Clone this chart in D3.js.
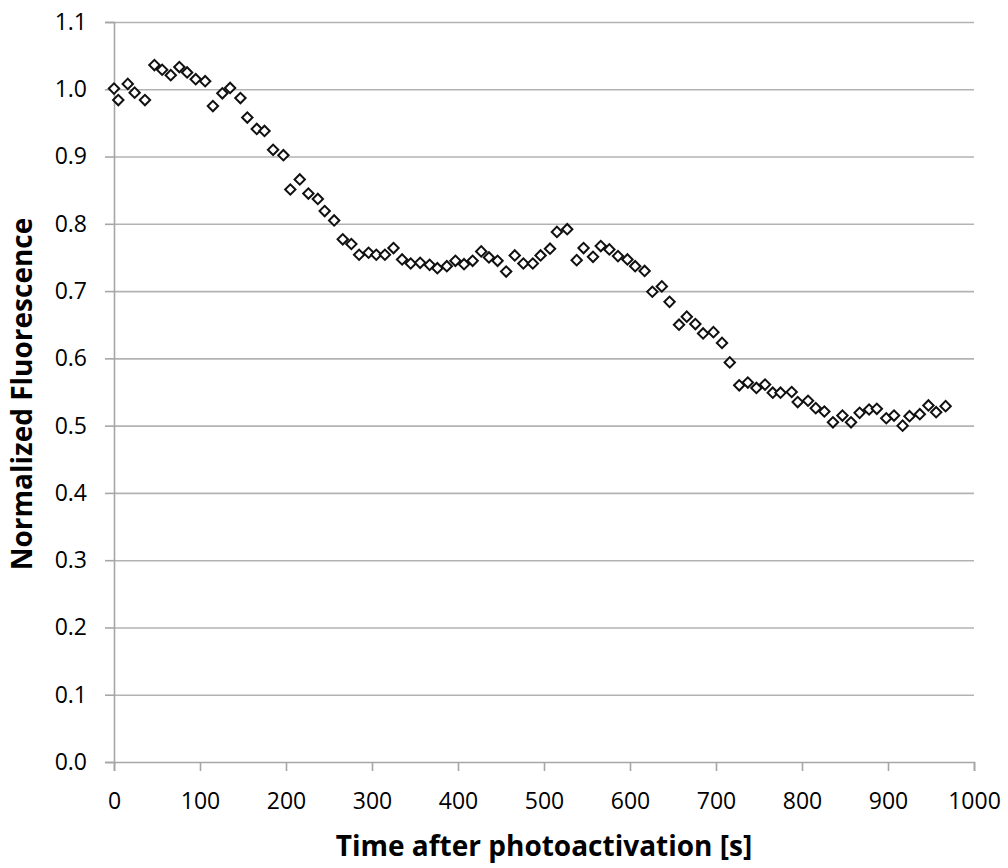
<!DOCTYPE html>
<html>
<head>
<meta charset="utf-8">
<script src="https://cdn.jsdelivr.net/npm/d3@7"></script>
<style>
  html, body { margin: 0; padding: 0; background: #ffffff; }
  svg { display: block; }
</style>
</head>
<body>
<div id="chart"></div>
<script>
// Time points (s) and normalized fluorescence
const times = [0, 5, 16, 24, 36, 47, 56, 66, 76, 85, 95, 106, 115, 126, 135, 147, 155, 166, 175, 185,
  197, 205, 216, 226, 237, 245, 256, 266, 276, 285, 296, 305, 315, 325, 335, 345, 356, 367, 376, 387,
  397, 407, 417, 427, 436, 446, 456, 466, 476, 487, 496, 507, 515, 527, 538, 546, 557, 566, 576, 586,
  597, 606, 617, 626, 637, 646, 657, 666, 676, 685, 697, 707, 716, 727, 737, 747, 757, 766, 775, 788,
  795, 807, 816, 826, 836, 847, 857, 867, 878, 887, 898, 907, 917, 925, 937, 947, 956, 967];
const fluorescence = [1.001, 0.984, 1.008, 0.995, 0.984, 1.036, 1.029, 1.021, 1.033, 1.025,
  1.015, 1.012, 0.975, 0.994, 1.002, 0.987, 0.958, 0.941, 0.938, 0.910,
  0.902, 0.851, 0.866, 0.845, 0.837, 0.819, 0.805, 0.777, 0.770, 0.754,
  0.757, 0.754, 0.754, 0.764, 0.747, 0.741, 0.742, 0.739, 0.734, 0.737,
  0.745, 0.740, 0.745, 0.759, 0.750, 0.745, 0.729, 0.753, 0.741, 0.741,
  0.753, 0.763, 0.788, 0.792, 0.746, 0.764, 0.751, 0.767, 0.762, 0.752,
  0.747, 0.737, 0.730, 0.699, 0.707, 0.684, 0.650, 0.662, 0.651, 0.637,
  0.639, 0.623, 0.594, 0.560, 0.564, 0.556, 0.561, 0.549, 0.549, 0.550,
  0.535, 0.537, 0.526, 0.521, 0.505, 0.515, 0.505, 0.519, 0.524, 0.525,
  0.511, 0.515, 0.500, 0.514, 0.517, 0.530, 0.520, 0.529];
const xTicks = [0, 100, 200, 300, 400, 500, 600, 700, 800, 900, 1000];
const yTicks = [0, 0.1, 0.2, 0.3, 0.4, 0.5, 0.6, 0.7, 0.8, 0.9, 1.0, 1.1];
const xTitle = 'Time after photoactivation [s]';
const yTitle = 'Normalized Fluorescence';

const points = times.map((t, i) => ({ t: t, v: fluorescence[i] }));

// Set up dimensions and margins
const W = 1008, H = 868;
const margin = { top: 22, right: 34, bottom: 106, left: 114 };
const width = W - margin.left - margin.right;
const height = H - margin.top - margin.bottom;
const font = '"Open Sans", "Liberation Sans", sans-serif';

const svg = d3.select('#chart')
  .append('svg')
  .attr('width', W)
  .attr('height', H);

const g = svg.append('g')
  .attr('transform', `translate(${margin.left},${margin.top})`);

const x = d3.scaleLinear().domain([0, 1000]).range([0, width]);
const y = d3.scaleLinear().domain([0, 1.1]).range([height, 0]);

// Horizontal gridlines
g.append('g')
  .attr('class', 'grid')
  .call(d3.axisLeft(y).tickValues(yTicks.slice(1)).tickSize(-width).tickFormat(''))
  .call(s => s.select('.domain').remove())
  .selectAll('line')
  .attr('stroke', '#b3b3b3')
  .attr('stroke-width', 1.6);

// Y-axis
const yAxis = g.append('g')
  .attr('class', 'axis y-axis')
  .call(d3.axisLeft(y).tickValues(yTicks).tickSize(9).tickPadding(18).tickFormat(d3.format('.1f')));
yAxis.select('.domain').attr('stroke', '#a6a6a6').attr('stroke-width', 1.6);
yAxis.selectAll('line').attr('stroke', '#a6a6a6').attr('stroke-width', 1.6);
yAxis.selectAll('text')
  .attr('fill', '#000')
  .style('font-family', font)
  .style('font-size', '23px');

// X-axis
const xAxis = g.append('g')
  .attr('class', 'axis x-axis')
  .attr('transform', `translate(0,${height})`)
  .call(d3.axisBottom(x).tickValues(xTicks).tickSize(9).tickPadding(22).tickFormat(d3.format('d')));
xAxis.select('.domain').attr('stroke', '#a6a6a6').attr('stroke-width', 1.6);
xAxis.selectAll('line').attr('stroke', '#a6a6a6').attr('stroke-width', 1.6);
xAxis.selectAll('text')
  .attr('fill', '#000')
  .style('font-family', font)
  .style('font-size', '23px');

// Markers: open diamonds
const marker = d3.symbol().type(d3.symbolSquare).size(54);
g.selectAll('.pt')
  .data(points)
  .enter()
  .append('path')
  .attr('class', 'pt')
  .attr('d', marker)
  .attr('transform', d => `translate(${x(d.t)},${y(d.v)}) rotate(45)`)
  .attr('fill', '#ffffff')
  .attr('stroke', '#111')
  .attr('stroke-width', 2);

// Axis titles
svg.append('text')
  .attr('x', 544)
  .attr('y', 856)
  .attr('text-anchor', 'middle')
  .style('font-family', font)
  .style('font-weight', 'bold')
  .style('font-size', '28px')
  .attr('fill', '#000')
  .text(xTitle);

svg.append('text')
  .attr('transform', `translate(32,${margin.top + height / 2 + 2}) rotate(-90)`)
  .attr('text-anchor', 'middle')
  .style('font-family', font)
  .style('font-weight', 'bold')
  .style('font-size', '28px')
  .attr('fill', '#000')
  .text(yTitle);
</script>
</body>
</html>
